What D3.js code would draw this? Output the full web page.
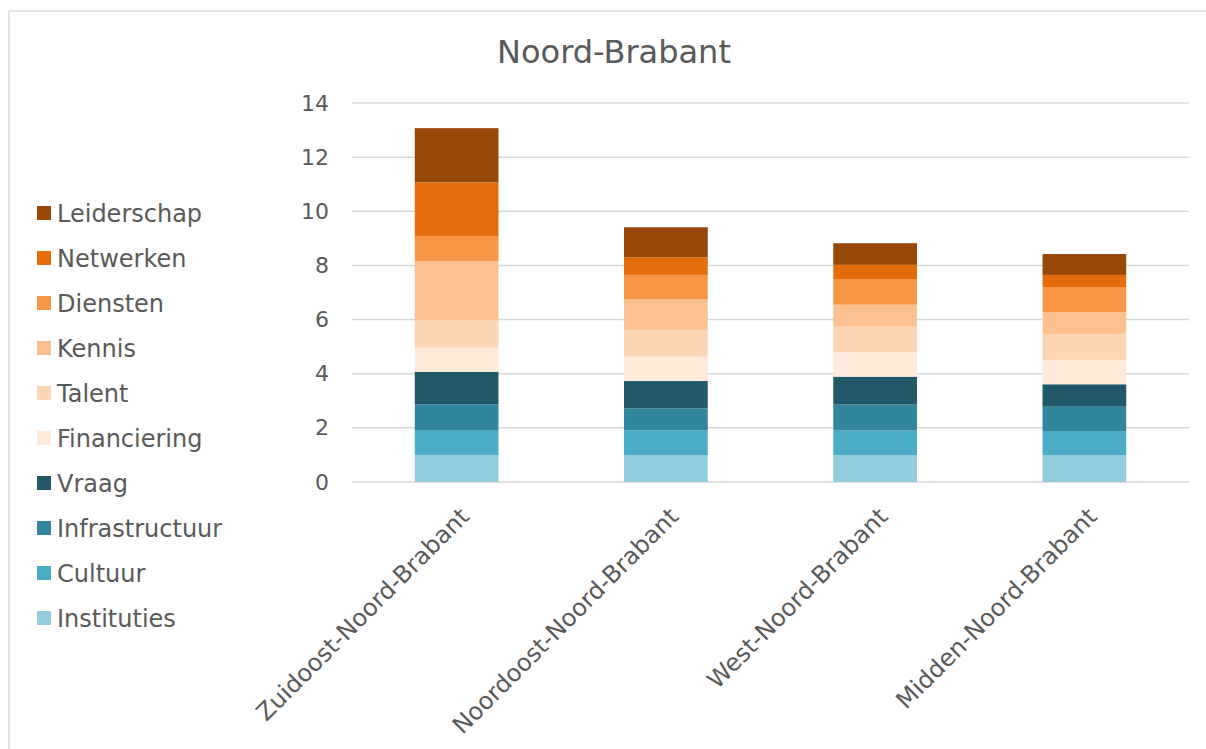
<!DOCTYPE html>
<html>
<head>
<meta charset="utf-8">
<script src="https://d3js.org/d3.v7.min.js"></script>
<style>
  body { margin: 0; background: #fff; }
  text { font-family: "DejaVu Sans", Verdana, sans-serif; fill: #595959; }
</style>
</head>
<body>
<svg id="chart"></svg>
<script>
const regions = ["Zuidoost-Noord-Brabant", "Noordoost-Noord-Brabant", "West-Noord-Brabant", "Midden-Noord-Brabant"]

// stacked bottom -> top
const factors = ["Instituties", "Cultuur", "Infrastructuur", "Vraag", "Financiering", "Talent", "Kennis", "Diensten", "Netwerken", "Leiderschap"]
const colors = ["#93cddd", "#4bacc6", "#31859c", "#215968", "#fdeada", "#fcd5b5", "#fac090", "#f79646", "#e46c0a", "#974706"]

const instituties    = [1.00, 0.99, 0.99, 0.99]
const cultuur        = [0.92, 0.92, 0.91, 0.89]
const infrastructuur = [0.95, 0.81, 0.96, 0.90]
const vraag          = [1.20, 1.01, 1.03, 0.83]
const financiering   = [0.89, 0.90, 0.91, 0.90]
const talent         = [1.02, 0.99, 0.94, 0.96]
const kennis         = [2.17, 1.13, 0.81, 0.81]
const diensten       = [0.94, 0.90, 0.95, 0.92]
const netwerken      = [1.98, 0.65, 0.52, 0.45]
const leiderschap    = [2.00, 1.11, 0.80, 0.77]

const yTicks = [0, 2, 4, 6, 8, 10, 12, 14]

const series = [instituties, cultuur, infrastructuur, vraag, financiering, talent, kennis, diensten, netwerken, leiderschap]

const dimensions = { width: 1206, height: 749 }
const plot = { left: 352, right: 1189, top: 103, bottom: 482 }

const table = regions.map(function (r, i) {
  const row = { region: r }
  factors.forEach(function (f, j) { row[f] = series[j][i] })
  return row
})

const stacked = d3.stack().keys(factors)(table)

const svg = d3.select("#chart")
  .attr("width", dimensions.width)
  .attr("height", dimensions.height)

svg.append("rect")
  .attr("x", 9)
  .attr("y", 11)
  .attr("width", 1220)
  .attr("height", 760)
  .attr("fill", "none")
  .attr("stroke", "#d9d9d9")
  .attr("stroke-width", 1.5)

const x = d3.scaleBand()
  .domain(regions)
  .range([plot.left, plot.right])
  .paddingInner(0.6)
  .paddingOuter(0.3)

const y = d3.scaleLinear()
  .domain([0, 14])
  .range([plot.bottom, plot.top])

// gridlines
svg.append("g")
  .selectAll("line")
  .data(yTicks)
  .enter().append("line")
  .attr("x1", plot.left)
  .attr("x2", plot.right)
  .attr("y1", function (d) { return y(d) })
  .attr("y2", function (d) { return y(d) })
  .attr("stroke", "#d9d9d9")
  .attr("stroke-width", 1.5)

// y labels
const yAxis = svg.append("g")
  .attr("transform", "translate(" + (plot.left - 23) + ",0)")
  .call(d3.axisLeft(y).tickValues(yTicks).tickSize(0).tickPadding(0))
yAxis.select(".domain").remove()
yAxis.selectAll("text")
  .attr("font-size", 22)
  .attr("font-family", "DejaVu Sans, Verdana, sans-serif")
  .attr("fill", "#595959")

// bars
svg.append("g")
  .selectAll("g")
  .data(stacked)
  .enter().append("g")
  .attr("fill", function (d, i) { return colors[i] })
  .selectAll("rect")
  .data(function (d) { return d })
  .enter().append("rect")
  .attr("x", function (d) { return x(d.data.region) })
  .attr("width", x.bandwidth())
  .attr("y", function (d) { return y(d[1]) })
  .attr("height", function (d) { return y(d[0]) - y(d[1]) })

// x labels
svg.append("g")
  .selectAll("text")
  .data(regions)
  .enter().append("text")
  .attr("transform", function (d) {
    return "translate(" + (x(d) + x.bandwidth() / 2 + 14) + "," + (plot.bottom + 36) + ") rotate(-45)"
  })
  .attr("text-anchor", "end")
  .attr("font-size", 24)
  .text(function (d) { return d })

// title
svg.append("text")
  .attr("x", 614)
  .attr("y", 63)
  .attr("text-anchor", "middle")
  .attr("font-size", 32)
  .text("Noord-Brabant")

// legend, top = Leiderschap
const legendItems = factors.slice().reverse()
const legend = svg.append("g")
  .selectAll("g")
  .data(legendItems)
  .enter().append("g")
  .attr("transform", function (d, i) { return "translate(37," + (206 + i * 45) + ")" })

legend.append("rect")
  .attr("width", 14)
  .attr("height", 14)
  .attr("fill", function (d) { return colors[factors.indexOf(d)] })

legend.append("text")
  .attr("x", 20)
  .attr("y", 16)
  .attr("font-size", 24)
  .text(function (d) { return d })
</script>
</body>
</html>
